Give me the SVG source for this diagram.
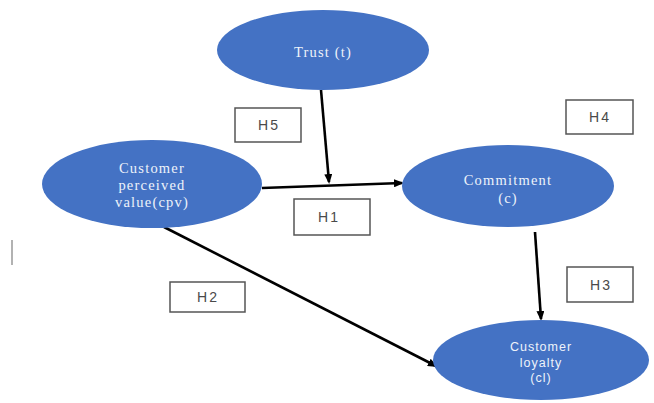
<svg xmlns="http://www.w3.org/2000/svg" width="654" height="403" viewBox="0 0 654 403">
<style>
.node{fill:#4472C4;}
.nt{fill:#eef2fa;font-family:"Liberation Serif",serif;font-size:14.5px;letter-spacing:1.2px;text-anchor:middle;}
.ns{fill:#eef2fa;font-family:"Liberation Sans",Arial,sans-serif;font-size:12.5px;letter-spacing:1px;text-anchor:middle;}
.box{fill:#ffffff;stroke:#555555;stroke-width:1.5;}
.bt{fill:#4a4a4a;font-family:"Liberation Sans",Arial,sans-serif;font-size:14px;letter-spacing:2px;text-anchor:middle;}
.edge{stroke:#000000;stroke-width:2.6;fill:none;marker-end:url(#ah);}
</style>
<defs>
<marker id="ah" markerWidth="10" markerHeight="8" refX="8" refY="4" orient="auto" markerUnits="userSpaceOnUse">
<path d="M0,0 L10,4 L0,8 Z" fill="#000000"/>
</marker>
</defs>
<rect width="654" height="403" fill="#ffffff"/>
<line x1="12" y1="240" x2="12" y2="265" stroke="#999999" stroke-width="1.5"/>
<g id="connectors">
<line class="edge" x1="321" y1="90" x2="329" y2="182"/>
<line class="edge" x1="262" y1="188" x2="402" y2="183"/>
<line class="edge" x1="164" y1="227" x2="436" y2="366"/>
<line class="edge" x1="535" y1="232" x2="541" y2="319"/>
</g>
<g id="trust">
<ellipse class="node" cx="323" cy="50" rx="106" ry="40"/>
<text class="nt" x="323" y="57">Trust (t)</text>
</g>
<g id="cpv">
<ellipse class="node" cx="152" cy="184" rx="110" ry="44"/>
<text class="nt" x="152" y="173">Customer</text>
<text class="nt" x="152" y="190">perceived</text>
<text class="nt" x="152" y="207">value(cpv)</text>
</g>
<g id="commitment">
<ellipse class="node" cx="508" cy="186" rx="106" ry="41"/>
<text class="nt" x="508" y="185">Commitment</text>
<text class="nt" x="508" y="203">(c)</text>
</g>
<g id="loyalty">
<ellipse class="node" cx="541" cy="360" rx="108" ry="40"/>
<text class="ns" x="541" y="351">Customer</text>
<text class="ns" x="541" y="367">loyalty</text>
<text class="ns" x="541" y="382">(cl)</text>
</g>
<g id="h5"><rect class="box" x="235" y="108" width="66" height="34"/><text class="bt" x="269" y="130">H5</text></g>
<g id="h1"><rect class="box" x="294" y="199" width="76" height="36"/><text class="bt" x="329" y="222">H1</text></g>
<g id="h4"><rect class="box" x="566" y="100" width="67" height="34"/><text class="bt" x="600" y="122">H4</text></g>
<g id="h3"><rect class="box" x="567" y="267" width="66" height="35"/><text class="bt" x="601" y="290">H3</text></g>
<g id="h2"><rect class="box" x="170" y="282" width="75" height="30"/><text class="bt" x="208" y="302">H2</text></g>
</svg>
